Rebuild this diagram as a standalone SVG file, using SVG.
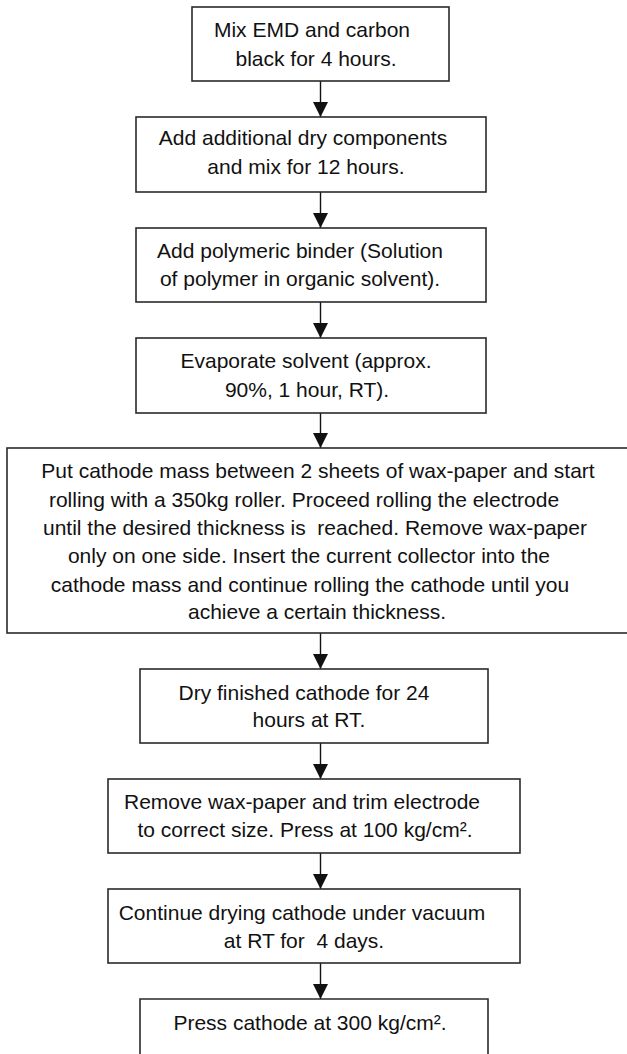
<svg xmlns="http://www.w3.org/2000/svg" width="627" height="1054" viewBox="0 0 627 1054">
<defs>
<style>
.box{fill:#fff;stroke:#2a2a2a;stroke-width:1.6}
.t{font-family:"Liberation Sans",Arial,sans-serif;font-size:21px;fill:#111;text-anchor:middle;white-space:pre}
.c{stroke:#111;stroke-width:1.4;fill:none}
</style>
<marker id="ah" markerWidth="15" markerHeight="15" refX="15" refY="7.5" orient="auto" markerUnits="userSpaceOnUse" viewBox="0 0 15 15">
<path d="M0,0 L15,7.5 L0,15 Z" fill="#111"/>
</marker>
</defs>
<rect width="627" height="1054" fill="#fff"/>
<g id="connectors">
<line class="c" x1="320.5" y1="81" x2="320.5" y2="117" marker-end="url(#ah)"/>
<line class="c" x1="320.5" y1="192" x2="320.5" y2="228" marker-end="url(#ah)"/>
<line class="c" x1="320.5" y1="302" x2="320.5" y2="338" marker-end="url(#ah)"/>
<line class="c" x1="320.5" y1="413" x2="320.5" y2="448" marker-end="url(#ah)"/>
<line class="c" x1="320.5" y1="633" x2="320.5" y2="669" marker-end="url(#ah)"/>
<line class="c" x1="320.5" y1="743" x2="320.5" y2="779" marker-end="url(#ah)"/>
<line class="c" x1="320.5" y1="853" x2="320.5" y2="889" marker-end="url(#ah)"/>
<line class="c" x1="320.5" y1="963" x2="320.5" y2="999" marker-end="url(#ah)"/>
</g>
<g id="n1">
<rect class="box" x="192" y="7" width="257" height="74"/>
<text class="t" x="312" y="37">Mix EMD and carbon</text>
<text class="t" x="316" y="66">black for 4 hours.</text>
</g>
<g id="n2">
<rect class="box" x="136" y="117" width="350" height="75"/>
<text class="t" x="303" y="145">Add additional dry components</text>
<text class="t" x="306" y="174">and mix for 12 hours.</text>
</g>
<g id="n3">
<rect class="box" x="136" y="228" width="350" height="74"/>
<text class="t" x="300" y="258">Add polymeric binder (Solution</text>
<text class="t" x="300" y="286">of polymer in organic solvent).</text>
</g>
<g id="n4">
<rect class="box" x="136" y="338" width="350" height="75"/>
<text class="t" x="306" y="368">Evaporate solvent (approx.</text>
<text class="t" x="307" y="397">90%, 1 hour, RT).</text>
</g>
<g id="n5">
<rect class="box" x="7" y="448" width="625" height="185"/>
<text class="t" x="318" y="478">Put cathode mass between 2 sheets of wax-paper and start</text>
<text class="t" x="304" y="507">rolling with a 350kg roller. Proceed rolling the electrode</text>
<text class="t" x="315" y="535">until the desired thickness is  reached. Remove wax-paper</text>
<text class="t" x="309" y="563">only on one side. Insert the current collector into the</text>
<text class="t" x="310" y="592">cathode mass and continue rolling the cathode until you</text>
<text class="t" x="317" y="619">achieve a certain thickness.</text>
</g>
<g id="n6">
<rect class="box" x="140" y="669" width="348" height="74"/>
<text class="t" x="304" y="700">Dry finished cathode for 24</text>
<text class="t" x="309" y="727">hours at RT.</text>
</g>
<g id="n7">
<rect class="box" x="108" y="779" width="412" height="74"/>
<text class="t" x="302" y="809">Remove wax-paper and trim electrode</text>
<text class="t" x="305" y="837">to correct size. Press at 100 kg/cm².</text>
</g>
<g id="n8">
<rect class="box" x="108" y="889" width="412" height="74"/>
<text class="t" x="302" y="920">Continue drying cathode under vacuum</text>
<text class="t" x="304" y="948">at RT for  4 days.</text>
</g>
<g id="n9">
<path class="box" d="M140,1060 L140,999 L488,999 L488,1060"/>
<text class="t" x="310" y="1030">Press cathode at 300 kg/cm².</text>
</g>
</svg>
